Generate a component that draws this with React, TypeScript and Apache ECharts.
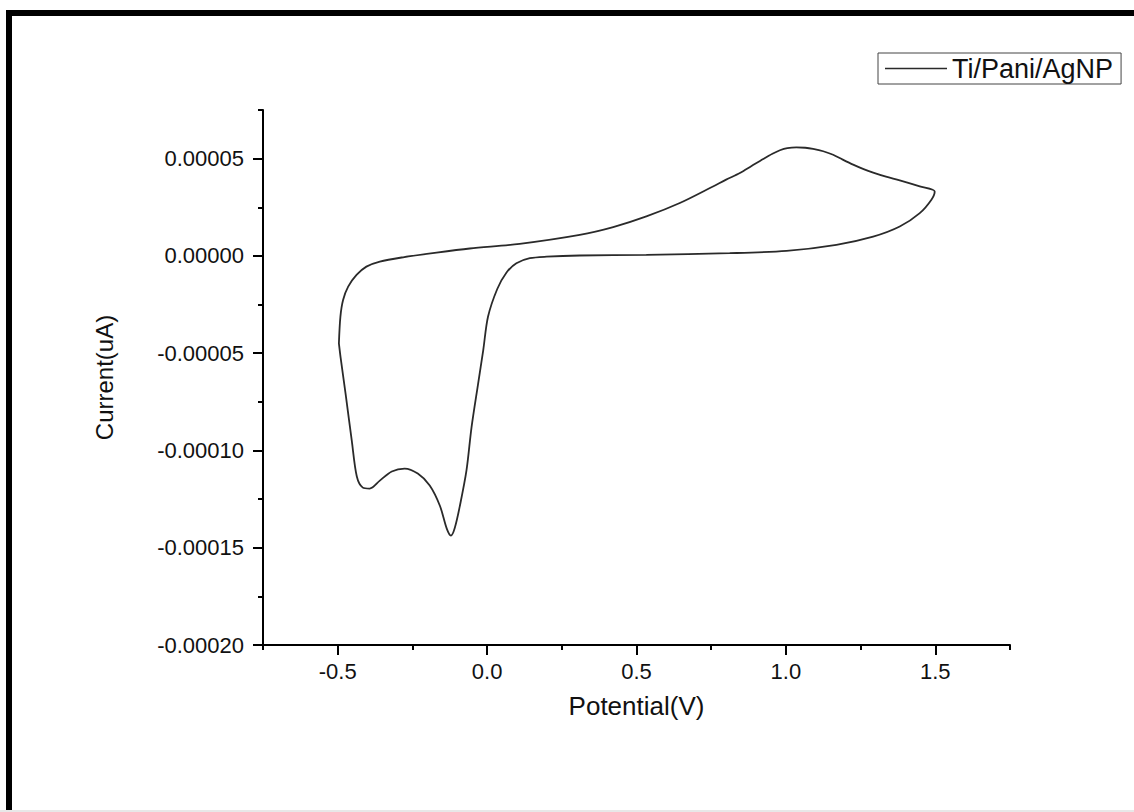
import React, { useEffect, useRef } from "react";
import * as echarts from "echarts";

// Cyclic voltammogram traced along the loop (potential in V, current in A)
const potential = [
  -0.496, -0.491, -0.482, -0.465, -0.437, -0.404, -0.359, -0.281, -0.169, -0.058,
  0.109, 0.31, 0.422, 0.533, 0.645, 0.756, 0.80, 0.846, 0.885, 0.924, 0.955, 0.98, 1.005, 1.035,
  1.065, 1.091, 1.125, 1.158, 1.19, 1.225, 1.26, 1.292, 1.335, 1.381, 1.448, 1.498,
  1.487, 1.448, 1.381, 1.292, 1.169, 1.002, 0.812, 0.533, 0.31, 0.199,
  0.143, 0.098, 0.065, 0.034, 0.003, -0.013, -0.03, -0.052, -0.069, -0.091,
  -0.108, -0.121, -0.135, -0.158, -0.192, -0.232, -0.276, -0.319, -0.359, -0.393,
  -0.416, -0.436, -0.453, -0.473, -0.49, -0.496,
];
const current = [
  -4.5e-5, -3.13e-5, -2.27e-5, -1.58e-5, -0.98e-5, -0.55e-5, -0.29e-5, -0.07e-5, 0.17e-5, 0.38e-5,
  0.62e-5, 1.08e-5, 1.48e-5, 2.03e-5, 2.72e-5, 3.57e-5, 3.92e-5, 4.26e-5, 4.62e-5, 4.98e-5, 5.25e-5, 5.43e-5, 5.54e-5, 5.58e-5,
  5.56e-5, 5.5e-5, 5.38e-5, 5.2e-5, 4.95e-5, 4.69e-5, 4.46e-5, 4.28e-5, 4.07e-5, 3.88e-5, 3.57e-5, 3.31e-5,
  2.89e-5, 2.2e-5, 1.51e-5, 0.99e-5, 0.57e-5, 0.26e-5, 0.14e-5, 0.05e-5, 0.02e-5, -0.04e-5,
  -0.12e-5, -0.38e-5, -0.85e-5, -1.7e-5, -3.13e-5, -4.85e-5, -6.56e-5, -8.8e-5, -11.03e-5, -12.84e-5,
  -13.97e-5, -14.38e-5, -14.02e-5, -12.84e-5, -11.8e-5, -11.19e-5, -10.93e-5, -11.08e-5, -11.55e-5, -11.96e-5,
  -11.91e-5, -11.34e-5, -9.48e-5, -7.16e-5, -5.26e-5, -4.5e-5,
];

const seriesName = "Ti/Pani/AgNP";
const xMajorTicks = [-0.5, 0, 0.5, 1.0, 1.5];
const yMajorTicks = [-0.0002, -0.00015, -0.0001, -0.00005, 0, 0.00005];

const FONT = "'Liberation Sans', Arial, Helvetica, sans-serif";

export default function App() {
  const ref = useRef<HTMLDivElement>(null);

  useEffect(() => {
    if (!ref.current) return;
    const chart = echarts.init(ref.current, undefined, { renderer: "svg" });
    const data = potential.map((p, i) => [p, current[i]]);

    chart.setOption({
      animation: false,
      backgroundColor: "#ffffff",
      textStyle: { fontFamily: FONT },
      grid: {
        left: 263,
        right: 124,
        top: 110,
        bottom: 167,
        containLabel: false,
        outerBoundsMode: "none",
      },
      legend: {
        data: [seriesName],
        left: 878,
        top: 53,
        icon: "rect",
        itemWidth: 62,
        itemHeight: 1.6,
        padding: [2, 8, 2, 7],
        borderColor: "#444",
        borderWidth: 1,
        textStyle: { fontSize: 27, color: "#111", fontFamily: FONT },
      },
      xAxis: [
        {
          type: "value",
          min: -0.75,
          max: 1.75,
          position: "bottom",
          name: "Potential(V)",
          nameLocation: "middle",
          nameGap: 48,
          nameTextStyle: { fontSize: 26, color: "#111", fontFamily: FONT },
          axisLine: { onZero: false, lineStyle: { color: "#000", width: 2 } },
          axisTick: {
            show: true,
            length: 10,
            customValues: xMajorTicks,
            lineStyle: { color: "#000", width: 2 },
          },
          axisLabel: {
            customValues: xMajorTicks,
            formatter: (v: number) => v.toFixed(1),
            fontSize: 22,
            color: "#111",
            margin: 15,
            fontFamily: FONT,
          },
          splitLine: { show: false },
        },
        {
          type: "value",
          min: -0.75,
          max: 1.75,
          interval: 0.25,
          position: "bottom",
          axisLine: { show: false, onZero: false },
          axisTick: { show: true, length: 5, lineStyle: { color: "#000", width: 2 } },
          axisLabel: { show: false },
          splitLine: { show: false },
        },
      ],
      yAxis: [
        {
          type: "value",
          min: -0.0002,
          max: 0.000075,
          position: "left",
          name: "Current(uA)",
          nameLocation: "middle",
          nameRotate: 90,
          nameGap: 147,
          nameTextStyle: { fontSize: 24, color: "#111", fontFamily: FONT },
          axisLine: { show: true, onZero: false, lineStyle: { color: "#000", width: 2 } },
          axisTick: {
            show: true,
            length: 10,
            customValues: yMajorTicks,
            lineStyle: { color: "#000", width: 2 },
          },
          axisLabel: {
            customValues: yMajorTicks,
            formatter: (v: number) => v.toFixed(5),
            fontSize: 22,
            color: "#111",
            margin: 19,
            fontFamily: FONT,
          },
          splitLine: { show: false },
        },
        {
          type: "value",
          min: -0.0002,
          max: 0.000075,
          interval: 0.000025,
          position: "left",
          axisLine: { show: false, onZero: false },
          axisTick: { show: true, length: 5, lineStyle: { color: "#000", width: 2 } },
          axisLabel: { show: false },
          splitLine: { show: false },
        },
      ],
      series: [
        {
          name: seriesName,
          type: "line",
          xAxisIndex: 0,
          yAxisIndex: 0,
          data,
          symbol: "none",
          showSymbol: false,
          smooth: 0.3,
          lineStyle: { color: "#2a2a2a", width: 1.8 },
          itemStyle: { color: "#2a2a2a" },
        },
      ],
      graphic: [
        { type: "rect", shape: { x: 6, y: 10, width: 1128, height: 6 }, style: { fill: "#000" } },
        { type: "rect", shape: { x: 6, y: 10, width: 6, height: 802 }, style: { fill: "#000" } },
        { type: "rect", shape: { x: 0, y: 810, width: 1134, height: 2 }, style: { fill: "#e8e8e8" } },
      ],
    });

    return () => chart.dispose();
  }, []);

  return (
    <div
      ref={ref}
      style={{ position: "absolute", left: 0, top: 0, width: 1134, height: 812 }}
    />
  );
}
